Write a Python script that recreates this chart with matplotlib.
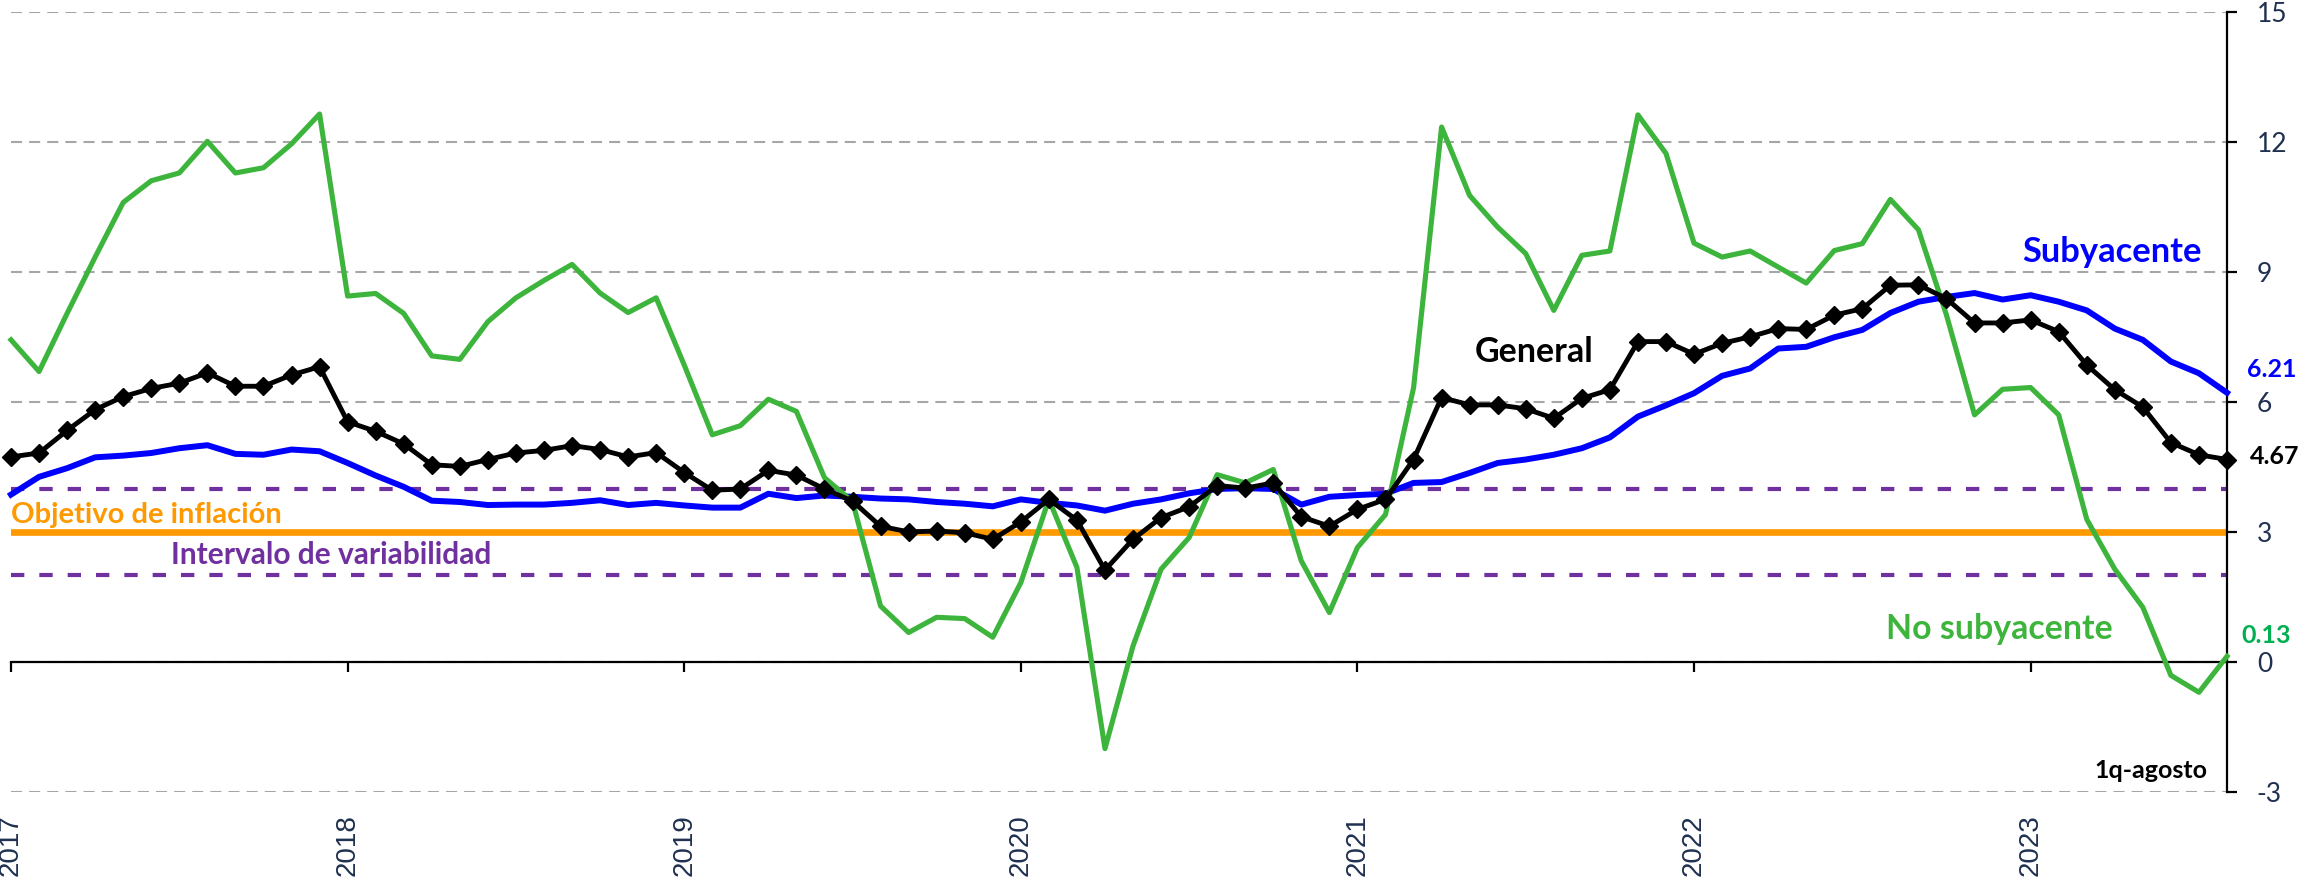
import numpy as np
import pandas as pd
import matplotlib
matplotlib.use("Agg")
import matplotlib.pyplot as plt

plt.rcParams['font.family'] = ['Lato', 'DejaVu Sans']

# ---------------- data ----------------
months = pd.date_range("2017-01-01", "2023-08-01", freq="MS").strftime("%Y-%m").tolist()

general = [4.73, 4.82, 5.34, 5.82, 6.12, 6.31, 6.43, 6.67, 6.36, 6.36, 6.62, 6.81,
           5.54, 5.32, 5.03, 4.55, 4.51, 4.67, 4.82, 4.88, 4.99, 4.90, 4.73, 4.83,
           4.37, 3.96, 3.99, 4.42, 4.31, 3.99, 3.71, 3.13, 3.00, 3.02, 2.98, 2.83,
           3.23, 3.75, 3.27, 2.12, 2.83, 3.33, 3.58, 4.07, 4.01, 4.13, 3.35, 3.13,
           3.52, 3.75, 4.67, 6.10, 5.93, 5.93, 5.84, 5.62, 6.08, 6.28, 7.39, 7.39,
           7.10, 7.35, 7.50, 7.69, 7.67, 8.00, 8.15, 8.69, 8.70, 8.38, 7.82, 7.82,
           7.89, 7.62, 6.85, 6.28, 5.88, 5.06, 4.78, 4.67]

subyacente = [3.86, 4.27, 4.47, 4.72, 4.76, 4.82, 4.93, 5.00, 4.80, 4.78, 4.90, 4.86,
              4.59, 4.30, 4.04, 3.72, 3.69, 3.62, 3.63, 3.63, 3.67, 3.73, 3.62, 3.67,
              3.61, 3.56, 3.56, 3.88, 3.78, 3.84, 3.81, 3.77, 3.75, 3.69, 3.65, 3.59,
              3.75, 3.67, 3.61, 3.49, 3.65, 3.75, 3.89, 3.99, 4.01, 3.99, 3.63, 3.81,
              3.85, 3.88, 4.13, 4.15, 4.36, 4.59, 4.67, 4.78, 4.93, 5.18, 5.66, 5.92,
              6.20, 6.60, 6.77, 7.23, 7.27, 7.49, 7.66, 8.05, 8.31, 8.42, 8.51, 8.36,
              8.46, 8.31, 8.11, 7.69, 7.43, 6.93, 6.66, 6.21]

no_subyacente = [7.43, 6.70, 8.04, 9.34, 10.60, 11.10, 11.28, 12.01, 11.28, 11.40, 11.95, 12.64,
                 8.44, 8.50, 8.04, 7.06, 6.98, 7.85, 8.40, 8.80, 9.17, 8.51, 8.06, 8.40,
                 6.85, 5.24, 5.45, 6.06, 5.78, 4.25, 3.70, 1.29, 0.68, 1.03, 1.00, 0.57,
                 1.83, 3.75, 2.18, -2.00, 0.37, 2.14, 2.87, 4.32, 4.13, 4.44, 2.33, 1.14,
                 2.64, 3.40, 6.32, 12.34, 10.76, 10.03, 9.42, 8.11, 9.38, 9.48, 12.62, 11.73,
                 9.66, 9.34, 9.48, 9.11, 8.74, 9.49, 9.65, 10.67, 9.97, 8.00, 5.70, 6.29,
                 6.33, 5.70, 3.29, 2.14, 1.26, -0.31, -0.70, 0.13]

objetivo = 3.0
intervalo = [2.0, 4.0]

year_labels = ["2017", "2018", "2019", "2020", "2021", "2022", "2023"]
y_ticks = [-3, 0, 3, 6, 9, 12, 15]

# ---------------- figure ----------------
W, H, DPI = 2300, 882, 100
fig = plt.figure(figsize=(W / DPI, H / DPI), dpi=DPI)
ax = fig.add_axes([11 / W, 90 / H, (2227 - 11) / W, (870.3 - 90) / H])

x = np.arange(len(months))
navy = "#1F3050"
c_green = "#3DB53D"
c_blue = "#0000FF"
c_orange = "#FF9900"
c_purple = "#7030A0"

# grid
for yv in y_ticks:
    ax.axhline(yv, color="#A6A6A6", lw=1.5, dashes=(5.3, 3.4), zorder=0)

# reference lines
ax.axhline(objetivo, color=c_orange, lw=4.8, zorder=1)
for yv in intervalo:
    ax.axhline(yv, color=c_purple, lw=3, dashes=(3.2, 3.6), zorder=1)

# series
ax.plot(x, subyacente, color=c_blue, lw=4.3, zorder=3, clip_on=False, solid_joinstyle="round")
ax.plot(x, no_subyacente, color=c_green, lw=3.7, zorder=4, clip_on=False, solid_joinstyle="round")
ax.plot(x, general, color="black", lw=3.5, marker="D", ms=9, zorder=5, clip_on=False)

ax.set_xlim(0, len(months) - 1)
ax.set_ylim(-3, 15)

# spines
ax.spines["left"].set_visible(False)
ax.spines["top"].set_visible(False)
ax.spines["bottom"].set_position(("data", 0))
ax.spines["bottom"].set_linewidth(1.6)
ax.spines["right"].set_linewidth(1.6)

# y axis on right
ax.yaxis.tick_right()
ax.set_yticks(y_ticks)
ax.set_yticklabels([str(v) for v in y_ticks])
ax.tick_params(axis="y", direction="out", length=7.5, width=1.6, pad=14,
               labelsize=19, labelcolor=navy)

# x axis years
year_pos = [months.index(f"{y}-01") for y in year_labels]
ax.set_xticks(year_pos)
ax.set_xticklabels(year_labels, rotation=90, fontfamily="Liberation Sans")
ax.tick_params(axis="x", direction="out", length=7.5, width=1.6, pad=102,
               labelsize=20, labelcolor=navy)

# annotations
ax.text(0, 3.40, "Objetivo de inflación", color=c_orange, fontsize=21,
        fontweight="bold", ha="left", va="center")
ax.text(5.7, 2.46, "Intervalo de variabilidad", color=c_purple, fontsize=21.5,
        fontweight="bold", ha="left", va="center")
ax.text(52.2, 7.15, "General", color="black", fontsize=24.5,
        fontweight="bold", ha="left", va="center")
ax.text(74.9, 9.45, "Subyacente", color=c_blue, fontsize=24.8,
        fontweight="bold", ha="center", va="center")
ax.text(70.9, 0.76, "No subyacente", color=c_green, fontsize=24.4,
        fontweight="bold", ha="center", va="center")
ax.text(79.7, 6.74, f"{subyacente[-1]:.2f}", color=c_blue, fontsize=18,
        fontweight="bold", ha="left", va="center")
ax.text(79.8, 4.74, f"{general[-1]:.2f}", color="black", fontsize=18,
        fontweight="bold", ha="left", va="center")
ax.text(79.5, 0.60, f"{no_subyacente[-1]:.2f}", color="#00B050", fontsize=18,
        fontweight="bold", ha="left", va="center")
ax.text(78.3, -2.5, "1q-agosto", color="black", fontsize=18,
        fontweight="bold", ha="right", va="center")

fig.savefig("out.png", dpi=DPI)
